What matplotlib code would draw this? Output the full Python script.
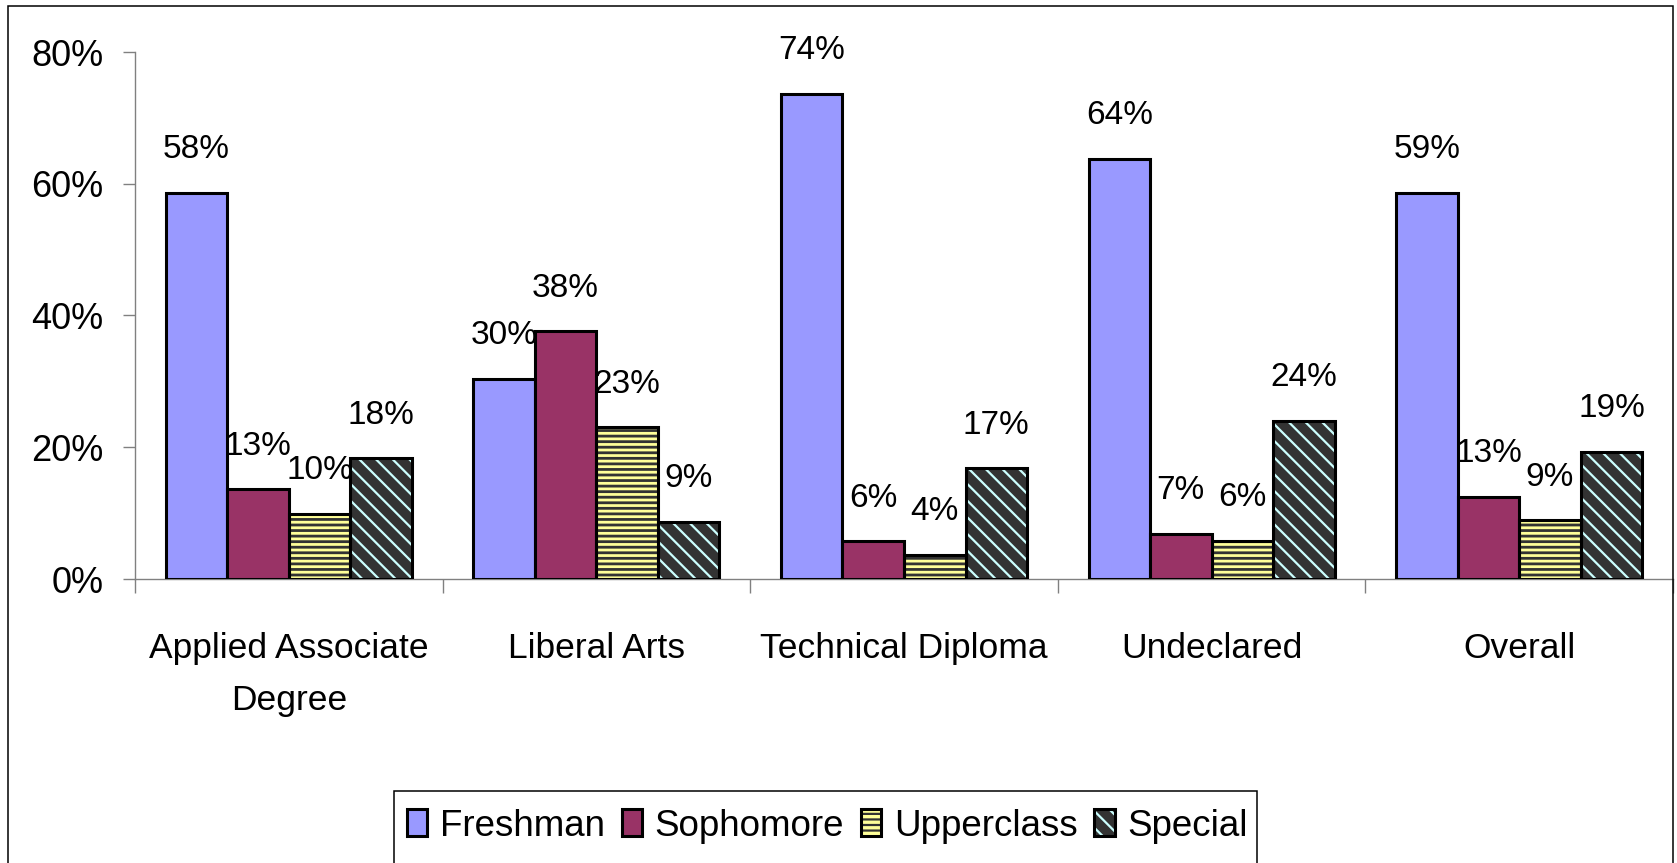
import matplotlib.pyplot as plt
from matplotlib.patches import Rectangle
from matplotlib.legend_handler import HandlerTuple
import numpy as np

categories = ['Applied Associate\nDegree', 'Liberal Arts', 'Technical Diploma',
              'Undeclared', 'Overall']
series = ['Freshman', 'Sophomore', 'Upperclass', 'Special']
freshman = [58.6, 30.4, 73.7, 63.8, 58.6]
sophomore = [13.6, 37.6, 5.7, 6.8, 12.5]
upperclass = [9.9, 23.0, 3.7, 5.8, 8.9]
special = [18.3, 8.7, 16.8, 24.0, 19.3]
labels = [[58, 30, 74, 64, 59],
          [13, 38, 6, 7, 13],
          [10, 23, 4, 6, 9],
          [18, 9, 17, 24, 19]]

# fill, hatch, hatch colour, hatch width
styles = [('#9999FF', '', None, 0),
          ('#993366', '', None, 0),
          ('#FFFF99', '---', '#333333', 2.0),
          ('#333333', '\\\\', '#CCFFFF', 1.6)]

font = ['Liberation Sans', 'DejaVu Sans']

W, H = 1677, 863
fig = plt.figure(figsize=(W / 100, H / 100), dpi=100)
ax = fig.add_axes([135 / W, 1 - 579 / H, (1673 - 135) / W, (579 - 52) / H])

x = np.arange(len(categories))
width = 0.2
values = [freshman, sophomore, upperclass, special]
handles = []
for i, vals in enumerate(values):
    fc, hatch, hc, hlw = styles[i]
    pos = x + (i - 1.5) * width
    v = np.array(vals) / 100
    if hatch:
        plt.rcParams['hatch.linewidth'] = hlw
        ax.bar(pos, v, width, color=fc, edgecolor=hc, hatch=hatch, linewidth=0, zorder=2)
        ax.bar(pos, v, width, fill=False, edgecolor='black', linewidth=2.2, zorder=3)
        h1 = Rectangle((0, 0), 1, 1, facecolor=fc, edgecolor=hc, hatch=hatch, linewidth=0)
        h2 = Rectangle((0, 0), 1, 1, fill=False, edgecolor='black', linewidth=2.2)
        handles.append((h1, h2))
    else:
        ax.bar(pos, v, width, color=fc, edgecolor='black', linewidth=2.2, zorder=3)
        handles.append(Rectangle((0, 0), 1, 1, facecolor=fc, edgecolor='black', linewidth=2.2))
    for xp, yv, lab in zip(pos, v, labels[i]):
        ax.annotate(f'{lab}%', (xp, yv), xytext=(0, 25), textcoords='offset points',
                    ha='center', va='baseline', fontsize=24, family=font)

ax.set_xlim(-0.5, len(categories) - 0.5)
ax.set_ylim(0, 0.8)
ax.set_yticks([0, 0.2, 0.4, 0.6, 0.8])
ax.set_yticklabels(['0%', '20%', '40%', '60%', '80%'], fontsize=26, family=font)
ax.tick_params(axis='y', length=8.6, width=1, color='#808080', pad=14)

ax.set_xticks(x)
ax.set_xticklabels(categories, fontsize=25.5, family=font, linespacing=1.75)
ax.tick_params(axis='x', which='major', length=0, pad=38)
ax.set_xticks(np.arange(len(categories) + 1) - 0.5, minor=True)
ax.tick_params(axis='x', which='minor', length=10, width=1, color='#808080')

for s in ['top', 'right']:
    ax.spines[s].set_visible(False)
for s in ['left', 'bottom']:
    ax.spines[s].set_color('#808080')
    ax.spines[s].set_linewidth(1)

leg = fig.legend(handles, series, loc='center left',
                 bbox_to_anchor=(407 / W, 1 - 826 / H), bbox_transform=fig.transFigure,
                 ncol=4, frameon=False, borderpad=0, borderaxespad=0,
                 handlelength=0.55, handleheight=0.75,
                 handletextpad=0.35, columnspacing=0.45,
                 prop={'family': font, 'size': 26.5},
                 handler_map={tuple: HandlerTuple(ndivide=1)})

# legend frame and outer chart border (both run past the bottom of the image)
fig.patches.append(Rectangle((394 / W, -0.05), (1257 - 394) / W, 0.05 + 1 - 791 / H,
                             transform=fig.transFigure, fill=False,
                             edgecolor='black', linewidth=1.1))
fig.patches.append(Rectangle((8 / W, -0.05), (1673 - 8) / W, 0.05 + 1 - 6 / H,
                             transform=fig.transFigure, fill=False,
                             edgecolor='black', linewidth=1.1))

fig.savefig('out.png', dpi=100)
